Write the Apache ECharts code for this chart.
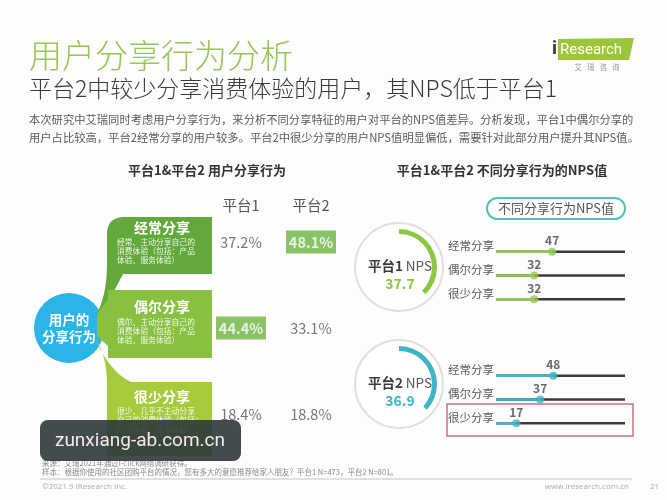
<!DOCTYPE html>
<html><head><meta charset="utf-8">
<script src="https://cdn.jsdelivr.net/npm/echarts@6/dist/echarts.min.js"></script>
<style>html,body{margin:0;padding:0;background:#fdfdfd}#c{width:667px;height:500px}</style>
</head><body><div id="c"></div>
<script>
const shareTypes = ['经常分享', '偶尔分享', '很少分享'];
const platforms = ['平台1', '平台2'];
const shareP1 = [37.2, 44.4, 18.4];
const shareP2 = [48.1, 33.1, 18.8];
const npsTotal = [37.7, 36.9];
const npsP1 = [47, 32, 32];
const npsP2 = [48, 37, 17];
const shareDesc = [
  ['经常、主动分享自己的', '消费体验（包括：产品', '体验、服务体验）'],
  ['偶尔、主动分享自己的', '消费体验（包括：产品', '体验、服务体验）'],
  ['很少、几乎不主动分享', '自己的消费体验（包括：', '产品体验、服务体验）']
];

const FONT = '"Noto Sans CJK SC","Noto Sans",sans-serif';
const GREEN = '#8dc63f', TEAL = '#3fb4c6';

function txt(x, y, text, o) {
  o = o || {};
  const al = o.align || 'left';
  const st = { text: text, fill: o.fill || '#333', fontSize: o.size || 12, fontWeight: o.weight || 'normal',
    fontFamily: o.family || FONT, align: al, verticalAlign: 'middle', textAlign: al, textVerticalAlign: 'middle' };
  if (o.rich) st.rich = o.rich;
  return { type: 'text', x: x, y: y, z: o.z || 10, style: st };
}
function pathPts(cmds) {
  const pts = []; let cx = 0, cy = 0;
  cmds.forEach(c => {
    if (c[0] === 'M' || c[0] === 'L') { cx = c[1]; cy = c[2]; pts.push([cx, cy]); }
    else if (c[0] === 'Q') {
      for (let i = 1; i <= 12; i++) { const t = i / 12, u = 1 - t;
        pts.push([u*u*cx + 2*u*t*c[1] + t*t*c[3], u*u*cy + 2*u*t*c[2] + t*t*c[4]]); }
      cx = c[3]; cy = c[4];
    } else if (c[0] === 'C') {
      for (let i = 1; i <= 16; i++) { const t = i / 16, u = 1 - t;
        pts.push([u*u*u*cx + 3*u*u*t*c[1] + 3*u*t*t*c[3] + t*t*t*c[5],
                  u*u*u*cy + 3*u*u*t*c[2] + 3*u*t*t*c[4] + t*t*t*c[6]]); }
      cx = c[5]; cy = c[6];
    }
  });
  return pts;
}

const graphics = [];
// header
graphics.push(txt(29, 55, '用户分享行为分析', { size: 33, fill: '#97c65a', weight: 300 }));
graphics.push(txt(29, 88, '平台2中较少分享消费体验的用户，其NPS低于平台1', { size: 23, fill: '#3a3a3a', weight: 300 }));
graphics.push(txt(29, 120, '本次研究中艾瑞同时考虑用户分享行为，来分析不同分享特征的用户对平台的NPS值差异。分析发现，平台1中偶尔分享的', { size: 11.3, fill: '#5a5a5a' }));
graphics.push(txt(29, 138, '用户占比较高，平台2经常分享的用户较多。平台2中很少分享的用户NPS值明显偏低，需要针对此部分用户提升其NPS值。', { size: 11.3, fill: '#5a5a5a' }));
// logo
graphics.push({ type: 'polygon', shape: { points: [[558, 39], [634, 38], [629, 60], [558, 60]] }, style: { fill: '#9cc63a' }, z: 5 });
graphics.push(txt(552, 49, 'i', { size: 19, weight: 'bold', fill: '#3a3a3a', family: 'Roboto' }));
graphics.push(txt(560, 50, 'Research', { size: 15, fill: '#fff', family: 'Roboto' }));
graphics.push(txt(597, 67, '艾   瑞   咨   询', { size: 7.5, fill: '#999', align: 'center' }));
// section headers
graphics.push(txt(207, 170, '平台1&平台2 用户分享行为', { size: 13, weight: 'bold', fill: '#333', align: 'center' }));
graphics.push(txt(502, 170, '平台1&平台2 不同分享行为的NPS值', { size: 13, weight: 'bold', fill: '#333', align: 'center' }));
graphics.push(txt(241, 205, platforms[0], { size: 14.5, fill: '#555', align: 'center' }));
graphics.push(txt(311, 205, platforms[1], { size: 14.5, fill: '#555', align: 'center' }));
// blue circle
graphics.push({ type: 'circle', shape: { cx: 69, cy: 328, r: 35 }, style: { fill: '#2bb4e6' }, z: 5 });
graphics.push(txt(69, 320, '用户的', { size: 13.5, weight: 'bold', fill: '#fff', align: 'center', z: 6 }));
graphics.push(txt(69, 337, '分享行为', { size: 13.5, weight: 'bold', fill: '#fff', align: 'center', z: 6 }));
// green bubbles
graphics.push({ type: 'polygon', z: 7, style: { fill: '#a5ca3c' }, shape: { points: pathPts([
  ['M', 95, 338], ['C', 104, 352, 107, 366, 107, 386], ['L', 107, 456], ['L', 212, 456], ['L', 212, 382],
  ['L', 131, 382], ['C', 118, 376, 105, 362, 95, 338]]) } });
graphics.push({ type: 'polygon', z: 7, style: { fill: '#62a83a' }, shape: { points: pathPts([
  ['M', 95, 318], ['C', 104, 300, 107, 285, 107, 262], ['L', 107, 234], ['Q', 107, 217, 125, 217],
  ['L', 212, 217], ['L', 212, 274], ['L', 123, 274], ['C', 116, 288, 107, 304, 95, 318]]) } });
graphics.push({ type: 'polygon', z: 8, style: { fill: '#87c13f' }, shape: { points: [
  [97, 314], [108, 299], [108, 290], [212, 290], [212, 358], [108, 358], [108, 346], [97, 336]] } });
const boxTitleY = [228, 307, 397];
const boxDescY = [242, 322, 411];
for (let i = 0; i < 3; i++) {
  graphics.push(txt(162, boxTitleY[i], shareTypes[i], { size: 14, weight: 'bold', fill: '#fff', align: 'center', z: 9 }));
  shareDesc[i].forEach((s, j) => graphics.push(txt(117, boxDescY[i] + j * 8.8, s, { size: 7.8, fill: 'rgba(255,255,255,0.9)', z: 9 })));
}
// NPS rings
const ringC = [[399, 267], [399, 384]];
const ringCol = [GREEN, TEAL];
for (let k = 0; k < 2; k++) {
  graphics.push({ type: 'circle', shape: { cx: ringC[k][0], cy: ringC[k][1], r: 44 }, style: { fill: '#fff', stroke: '#e0e0e0', lineWidth: 2 }, z: 1 });
  graphics.push(txt(ringC[k][0] + 1, ringC[k][1] - 1, '{a|' + platforms[k] + '} {b|NPS}', { align: 'center', z: 10,
    rich: { a: { fontSize: 13.5, fontWeight: 'bold', fill: '#3a3a3a', color: '#3a3a3a', fontFamily: FONT },
            b: { fontSize: 13.5, fill: '#555', color: '#555', fontFamily: FONT } } }));
  graphics.push(txt(ringC[k][0] + 1, ringC[k][1] + 17, npsTotal[k].toFixed(1), { size: 14, weight: 'bold', fill: ringCol[k], align: 'center' }));
}
// pill
graphics.push({ type: 'rect', shape: { x: 487, y: 198, width: 138, height: 21, r: 10.5 }, style: { fill: '#fff', stroke: '#52c0c2', lineWidth: 2 }, z: 5 });
graphics.push(txt(556, 208.5, '不同分享行为NPS值', { size: 13, fill: '#555', align: 'center' }));
// red highlight box
graphics.push({ type: 'rect', shape: { x: 447, y: 404, width: 186, height: 32 }, style: { fill: 'none', stroke: '#c86f80', lineWidth: 1.5 }, z: 5 });
// footer
graphics.push(txt(42, 463, '来源：艾瑞2021年通过i-click网络调研获得。', { size: 7.5, fill: '#8a8a8a' }));
graphics.push(txt(42, 472, '样本：根据你使用的社区团购平台的情况，您有多大的意愿推荐给家人朋友？平台1 N=473，平台2 N=801。', { size: 7.5, fill: '#8a8a8a' }));
graphics.push({ type: 'line', shape: { x1: 40, y1: 479, x2: 632, y2: 479 }, style: { stroke: '#c4c4c4', lineWidth: 1 } });
graphics.push(txt(42, 487, '©2021.9 iResearch Inc.', { size: 8, fill: '#aaa', family: 'Open Sans' }));
graphics.push(txt(629, 487, 'www.iresearch.com.cn', { size: 8, fill: '#aaa', align: 'right', family: 'Open Sans' }));
graphics.push(txt(650, 487, '21', { size: 8, fill: '#aaa', family: 'Open Sans' }));
// watermark
graphics.push({ type: 'rect', shape: { x: 40, y: 420, width: 201, height: 41, r: 8 }, style: { fill: 'rgba(46,56,56,0.9)' }, z: 100 });
graphics.push(txt(140, 441, 'zunxiang-ab.com.cn', { size: 19, fill: '#f3e9f2', align: 'center', family: 'Roboto', z: 101 }));

function tableSeries(vals, col) {
  const mx = Math.max.apply(null, vals);
  return {
    type: 'scatter', xAxisIndex: 0, yAxisIndex: 0, symbol: 'rect', silent: true, z: 5,
    data: vals.map((v, i) => {
      const hi = v === mx;
      return { value: [col, i, v], symbolSize: hi ? [50, 23] : [1, 1],
        itemStyle: { color: hi ? '#6bb33e' : 'rgba(0,0,0,0)' },
        label: { color: hi ? '#fff' : '#555', fontWeight: hi ? 'bold' : 'normal' } };
    }),
    label: { show: true, position: 'inside', fontSize: 14.5, fontFamily: FONT, formatter: p => p.value[2].toFixed(1) + '%' }
  };
}
function npsSeries(vals, idx, color) {
  return [
    { type: 'bar', xAxisIndex: idx, yAxisIndex: idx, data: vals, barWidth: 2.5, silent: true,
      itemStyle: { color: color }, showBackground: true, backgroundStyle: { color: '#3c3c3c' } },
    { type: 'scatter', xAxisIndex: idx, yAxisIndex: idx, silent: true, symbolSize: 8, z: 4,
      data: vals.map((v, i) => [v, i]), itemStyle: { color: color },
      label: { show: true, position: 'top', distance: 1, fontSize: 12, fontWeight: 'bold', color: '#444', fontFamily: FONT,
        formatter: p => String(p.value[0]) } }
  ];
}
function ring(v, k) {
  return { type: 'pie', center: ringC[k], radius: [33, 38], startAngle: 90, clockwise: true, silent: true, z: 3,
    label: { show: false }, labelLine: { show: false },
    itemStyle: { borderWidth: 0 },
    data: [{ value: v, itemStyle: { color: ringCol[k] } }, { value: 100 - v, itemStyle: { color: 'rgba(0,0,0,0)' } }] };
}
const catY = (g) => ({ gridIndex: g, type: 'category', data: shareTypes, inverse: true,
  axisLine: { show: false }, axisTick: { show: false }, splitLine: { show: false },
  axisLabel: { color: '#5a5a5a', fontSize: 11.5, margin: 2, verticalAlign: 'bottom', fontFamily: FONT } });

const option = {
  animation: false,
  backgroundColor: '#fdfdfd',
  textStyle: { fontFamily: FONT },
  grid: [
    { left: 206, top: 199, width: 140, height: 258 },
    { left: 496, top: 240, width: 129, height: 71 },
    { left: 496, top: 364, width: 129, height: 71 }
  ],
  xAxis: [
    { gridIndex: 0, type: 'category', data: platforms, show: false },
    { gridIndex: 1, type: 'value', min: 0, max: 108, show: false },
    { gridIndex: 2, type: 'value', min: 0, max: 108, show: false }
  ],
  yAxis: [
    { gridIndex: 0, type: 'category', data: shareTypes, inverse: true, show: false },
    catY(1), catY(2)
  ],
  graphic: { elements: graphics },
  series: [
    tableSeries(shareP1, 0), tableSeries(shareP2, 1),
    ...npsSeries(npsP1, 1, '#95c84f'), ...npsSeries(npsP2, 2, TEAL),
    ring(npsTotal[0], 0), ring(npsTotal[1], 1)
  ]
};
const chart = echarts.init(document.getElementById('c'), null, { renderer: 'canvas' });
chart.setOption(option);
</script></body></html>
